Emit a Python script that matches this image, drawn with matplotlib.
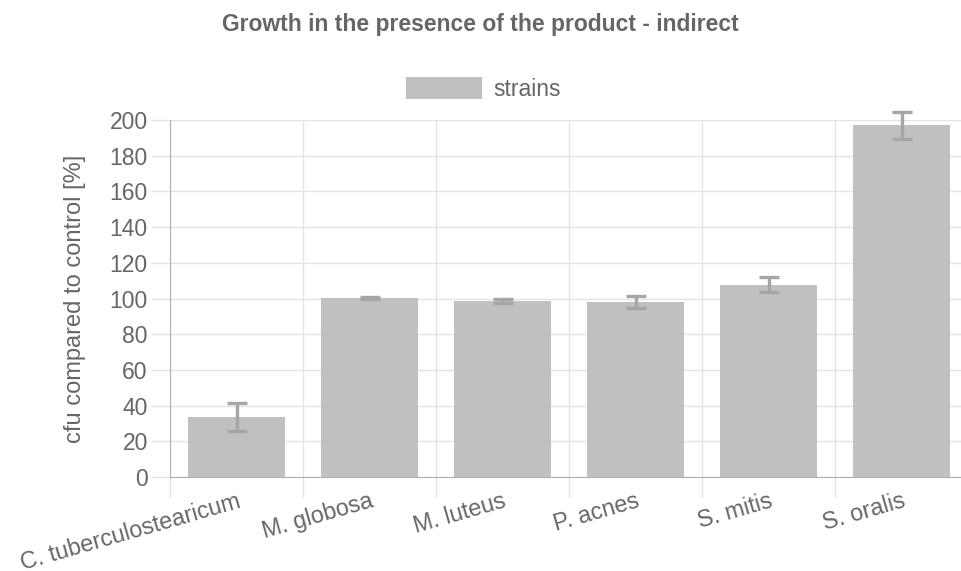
import numpy as np
import matplotlib.pyplot as plt
from matplotlib.ticker import MultipleLocator, FixedLocator

plt.rcParams['font.family'] = ['Liberation Sans', 'DejaVu Sans']

# datos
strains = ['C. tuberculostearicum', 'M. globosa', 'M. luteus', 'P. acnes', 'S. mitis', 'S. oralis']
cfu = [33.7, 100.2, 98.6, 98.0, 107.8, 197.0]
err = [8.0, 0.4, 1.0, 3.3, 4.2, 7.5]

txt = '#666666'
grid = '#e4e4e4'

fig = plt.figure(figsize=(9.61, 5.71), dpi=100)
ax = fig.add_axes([170/961, 94/571, 798/961, 357/571])

x = np.arange(len(strains))
ax.bar(x, cfu, width=0.73, color='#c0c0c0', label='strains', zorder=2)
ax.errorbar(x, cfu, yerr=err, fmt='none', ecolor='#a6a6a6', elinewidth=2.4,
            capsize=7, capthick=2.4, zorder=3, clip_on=False)

ax.set_xlim(-0.5, len(strains) - 0.5)
ax.set_ylim(0, 200)
ax.yaxis.set_major_locator(MultipleLocator(20))

# lineas de la rejilla entre categorias
ax.xaxis.set_minor_locator(FixedLocator(np.arange(len(strains) + 1) - 0.5))
ax.set_xticks(x)
ax.set_xticklabels(strains, rotation=16, ha='right', rotation_mode='anchor',
                   fontsize=16.8, color=txt)
ax.tick_params(axis='x', which='major', length=0, pad=9)
ax.tick_params(axis='x', which='minor', length=14.5, color=grid, width=1)
ax.tick_params(axis='y', length=14, color=grid, width=1, labelsize=16.5,
               labelcolor=txt, pad=2)

ax.grid(True, which='minor', axis='x', color=grid, lw=1, zorder=0)
ax.grid(True, which='major', axis='y', color=grid, lw=1, zorder=0)
ax.set_axisbelow(True)

for s in ['top', 'right']:
    ax.spines[s].set_visible(False)
ax.spines['left'].set_color('#b0b0b0')
ax.spines['bottom'].set_color('#b0b0b0')

ax.set_ylabel('cfu compared to control [%]', fontsize=17, color=txt)
ax.yaxis.set_label_coords(-84/798, 0.5)

fig.text(0.5, 1 - 24/571, 'Growth in the presence of the product - indirect',
         ha='center', va='center', fontsize=16.5, fontweight='bold', color=txt)

fig.legend(loc='center', bbox_to_anchor=(0.503, 1 - 89/571), frameon=False,
           fontsize=16.5, labelcolor=txt, handlelength=3.35, handleheight=1.05,
           handletextpad=0.5)

fig.savefig('out.png', dpi=100)
